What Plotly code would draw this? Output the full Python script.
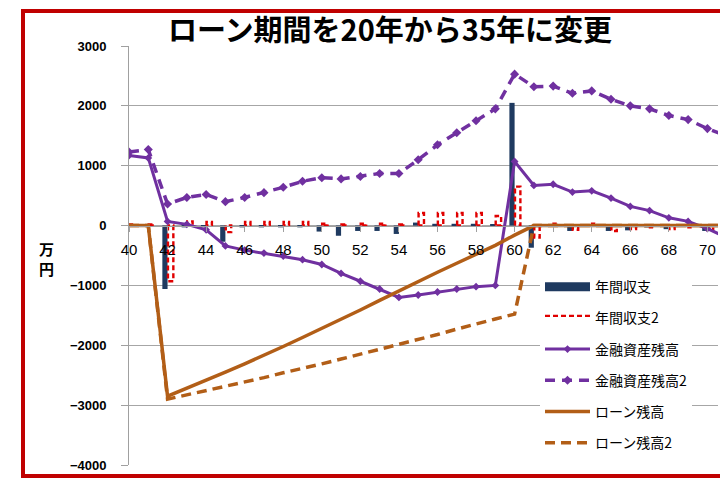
import plotly.graph_objects as go

ages = list(range(40, 72))
annual = [5, 5, -1060, -30, -30, -270, -30, -30, -30, -30, -100, -170, -90, -90, -140,
          50, 30, 30, 30, 20, 2050, -370, -10, -90, -20, -90, -80, -30, -60, -20, -90, None]
annual2 = [20, 20, -930, 70, 60, -110, 60, 60, 60, 60, 30, 20, 30, 30, 20,
           210, 210, 210, 210, 160, 650, -200, 30, -70, 30, -90, -60, -30, -60, -30, -80, None]
asset = [1170, 1130, 70, 20, -70, -340, -410, -460, -510, -570, -650, -800, -930, -1060, -1200,
         -1160, -1110, -1060, -1020, -1000, 1070, 670, 690, 560, 580, 460, 320, 250, 130, 70, -50, -200]
asset2 = [1230, 1270, 360, 470, 520, 400, 470, 550, 640, 740, 800, 780, 820, 870, 870,
          1100, 1350, 1550, 1750, 1950, 2530, 2320, 2330, 2210, 2250, 2110, 2000, 1950, 1840, 1770, 1620, 1500]
loan = [0, 0, -2850, -2720, -2590, -2450, -2310, -2170, -2020, -1870, -1720, -1570, -1410, -1250, -1090,
        -930, -780, -630, -480, -330, -160, 0, 0, 0, 0, 0, 0, 0, 0, 0, 0, 0]
loan2 = [0, 0, -2900, -2830, -2760, -2690, -2610, -2540, -2460, -2390, -2310, -2230, -2150, -2070, -1990,
         -1900, -1820, -1730, -1640, -1560, -1480, 0, 0, 0, 0, 0, 0, 0, 0, 0, 0, 0]
names = ["年間収支", "年間収支2", "金融資産残高", "金融資産残高2", "ローン残高", "ローン残高2"]
title_text = "ローン期間を20年から35年に変更"

NAVY = "#1F3A60"
RED = "#E00000"
PURPLE = "#7030A0"
BROWN = "#B25E17"
JP = "Noto Sans CJK JP"

# dashed outline rectangles for series 2 bars (built from data)
rx, ry = [], []
w0, w1 = 0.02, 0.30
for a, v in zip(ages, annual2):
    if v is None:
        continue
    rx += [a + w0, a + w0, a + w1, a + w1, a + w0, None]
    ry += [0, v, v, 0, 0, None]

fig = go.Figure()
fig.add_trace(go.Bar(x=ages, y=annual, name=names[0], marker=dict(color=NAVY, line=dict(width=0)),
                     width=0.27, offset=-0.27, showlegend=False))
fig.add_trace(go.Scatter(x=[None], y=[None], mode="lines", name=names[0],
                         line=dict(color=NAVY, width=9), legendgroup="g1"))
fig.add_trace(go.Scatter(x=rx, y=ry, mode="lines", name=names[1], fill="toself",
                         fillcolor="rgba(255,255,255,1)",
                         line=dict(color=RED, width=2.4, dash="5px,3px"), legendgroup="g2"))
fig.add_trace(go.Scatter(x=ages, y=asset, mode="lines+markers", name=names[2],
                         line=dict(color=PURPLE, width=3),
                         marker=dict(symbol="diamond", size=6, color=PURPLE), legendgroup="g3"))
fig.add_trace(go.Scatter(x=ages, y=asset2, mode="lines+markers", name=names[3],
                         line=dict(color=PURPLE, width=3.5, dash="10px,7px"),
                         marker=dict(symbol="diamond", size=7, color=PURPLE), legendgroup="g4"))
fig.add_trace(go.Scatter(x=ages, y=loan, mode="lines", name=names[4],
                         line=dict(color=BROWN, width=3.5), legendgroup="g5"))
fig.add_trace(go.Scatter(x=ages, y=loan2, mode="lines", name=names[5],
                         line=dict(color=BROWN, width=3.5, dash="10px,6px"), legendgroup="g6"))

# page is shown with an 8px body margin; positions below are page pixels
OFF = 8
W, H = 720, 475
L, T = 129 - OFF, 45.5 - OFF
plot_w, plot_h = 589, 423.5
R = W - L - plot_w
B = H - T - plot_h


def px_x(p):
    return (p - OFF - L) / plot_w


def px_y(p):
    return (H - B - (p - OFF)) / plot_h


fig.update_layout(
    width=W, height=H,
    margin=dict(l=L, r=R, t=T, b=B),
    paper_bgcolor="white", plot_bgcolor="white",
    title=dict(text=title_text, x=(390 - OFF) / W, xref="container", xanchor="center",
               y=1 - (31 - OFF) / H, yref="container", yanchor="middle",
               font=dict(family=JP, size=29, color="black", weight="bold")),
    xaxis=dict(range=[40, 70.55], tick0=40, dtick=2, anchor="free", position=4 / 7,
               showgrid=False, zeroline=False, showline=True, linecolor="#A0A0A0", linewidth=1,
               ticks="outside", ticklen=5, tickcolor="#A0A0A0",
               tickfont=dict(family="Liberation Sans", size=15, color="black"),
               ticklabelstandoff=5),
    yaxis=dict(range=[-4000, 3000], dtick=1000, showgrid=True, gridcolor="#A6A6A6", gridwidth=1,
               zeroline=False, showline=True, linecolor="#A0A0A0", linewidth=1,
               ticks="outside", ticklen=7, tickcolor="#A0A0A0",
               tickfont=dict(family="Liberation Sans", size=13, color="black", weight="bold"),
               ticklabelstandoff=12),
    legend=dict(x=px_x(540), y=px_y(273), xanchor="left", yanchor="top",
                bgcolor="white", borderwidth=0, tracegroupgap=10, itemwidth=45,
                font=dict(family=JP, size=14, color="black")),
    showlegend=True,
    shapes=[dict(type="rect", xref="paper", yref="paper",
                 x0=px_x(23), x1=px_x(725), y0=px_y(480), y1=px_y(10),
                 line=dict(color="#C00000", width=4), fillcolor="rgba(0,0,0,0)", layer="above")],
    annotations=[dict(text="万<br>円", xref="paper", yref="paper", x=px_x(46), y=px_y(260),
                      showarrow=False, font=dict(family=JP, size=15, color="black", weight="bold"),
                      xanchor="center", yanchor="middle")],
)

fig.write_html("out.html")
